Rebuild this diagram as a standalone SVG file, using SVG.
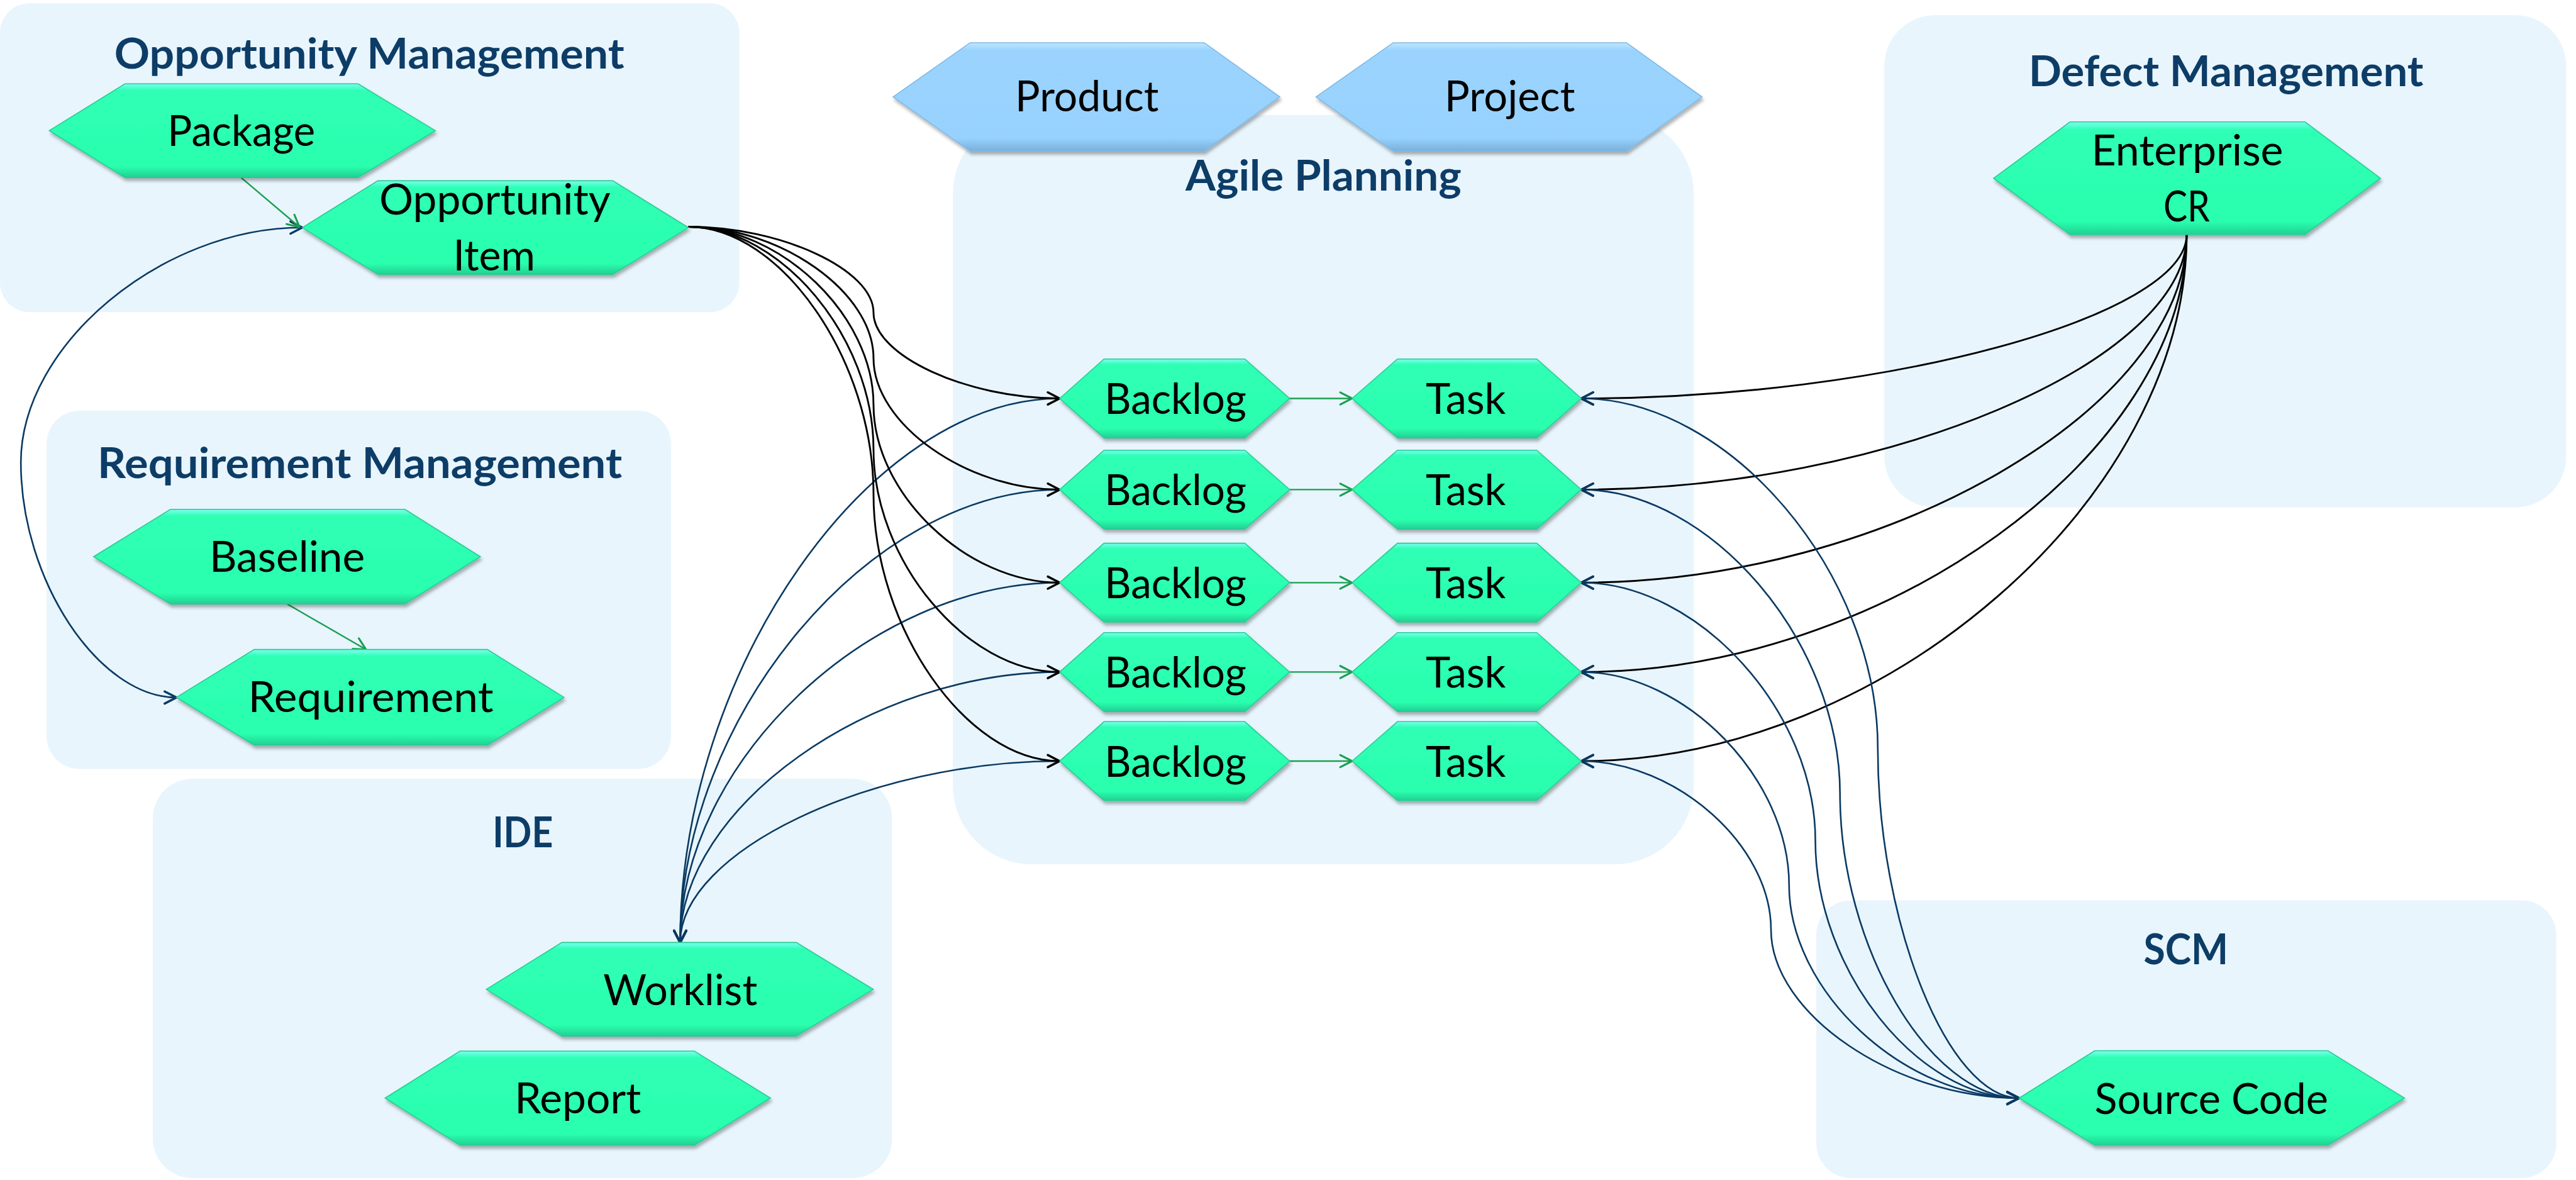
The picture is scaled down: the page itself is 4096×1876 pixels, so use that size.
<svg xmlns="http://www.w3.org/2000/svg" width="4096" height="1876" viewBox="0 0 4096 1876">
  <style>
    .box { fill: #e8f5fd; }
    .title { font-family: Lato, "Open Sans", "Liberation Sans", sans-serif; font-weight: 700; font-size: 25.4px; fill: #0d3d67; text-anchor: middle; }
    .hex { fill: url(#gGreen); stroke: #27cc90; stroke-width: 0.6; filter: url(#shadow); }
    .hexb { fill: url(#gBlue); stroke: #7db8e6; stroke-width: 0.6; filter: url(#shadow); }
    .lbl { font-family: Lato, "Open Sans", "Liberation Sans", sans-serif; font-size: 25.8px; fill: #000; text-anchor: middle; }
    .ck { fill: none; stroke: #000; stroke-width: 1.1; }
    .cb { fill: none; stroke: #0a3a63; stroke-width: 1; }
    .cg { fill: none; stroke: #1a9f50; stroke-width: 0.9; }
  </style>
  <defs>
    <linearGradient id="gGreen" x1="0" y1="0" x2="0" y2="1">
      <stop offset="0" stop-color="#7dfff0"/>
      <stop offset="0.07" stop-color="#2fffb5"/>
      <stop offset="0.88" stop-color="#2affae"/>
      <stop offset="1" stop-color="#21d192"/>
    </linearGradient>
    <linearGradient id="gBlue" x1="0" y1="0" x2="0" y2="1">
      <stop offset="0" stop-color="#bfe6ff"/>
      <stop offset="0.07" stop-color="#9ad4fe"/>
      <stop offset="0.88" stop-color="#97d1fd"/>
      <stop offset="1" stop-color="#7aafdb"/>
    </linearGradient>
    <filter id="shadow" x="-10%" y="-15%" width="125%" height="145%">
      <feDropShadow dx="0.8" dy="1.8" stdDeviation="1" flood-color="#000" flood-opacity="0.3"/>
    </filter>
    <marker id="arrK" markerUnits="userSpaceOnUse" viewBox="-9 -5 10 10" refX="0" refY="0" markerWidth="10" markerHeight="10" orient="auto-start-reverse" overflow="visible">
      <path d="M-7.2,-3.7 L0,0 L-7.2,3.7" fill="none" stroke="#000" stroke-width="1.35" stroke-linecap="round" stroke-linejoin="round"/>
    </marker>
    <marker id="arrB" markerUnits="userSpaceOnUse" viewBox="-9 -5 10 10" refX="0" refY="0" markerWidth="10" markerHeight="10" orient="auto-start-reverse" overflow="visible">
      <path d="M-7.2,-3.7 L0,0 L-7.2,3.7" fill="none" stroke="#0a3a63" stroke-width="1.35" stroke-linecap="round" stroke-linejoin="round"/>
    </marker>
    <marker id="arrG" markerUnits="userSpaceOnUse" viewBox="-9 -5 10 10" refX="0" refY="0" markerWidth="10" markerHeight="10" orient="auto-start-reverse" overflow="visible">
      <path d="M-7.2,-3.7 L0,0 L-7.2,3.7" fill="none" stroke="#1a9f50" stroke-width="1.2" stroke-linecap="round" stroke-linejoin="round"/>
    </marker>
  </defs>

  <rect width="4096" height="1876" fill="#ffffff"/>

  <g transform="scale(2.612245)">
    <!-- domain containers -->
    <g id="opportunity-management">
      <rect class="box" x="0" y="2" width="450" height="188" rx="18"/>
      <text class="title" x="224.8" y="41.8" textLength="310.4" lengthAdjust="spacingAndGlyphs">Opportunity Management</text>
    </g>
    <g id="requirement-management">
      <rect class="box" x="28.4" y="250" width="380" height="218" rx="20"/>
      <text class="title" x="219" y="291" textLength="319.3" lengthAdjust="spacingAndGlyphs">Requirement Management</text>
    </g>
    <g id="ide">
      <rect class="box" x="93" y="474" width="450" height="243" rx="24"/>
      <text class="title" x="318.2" y="515.6" textLength="36.8" lengthAdjust="spacingAndGlyphs">IDE</text>
    </g>
    <g id="agile-planning">
      <rect class="box" x="580" y="70" width="451" height="456" rx="48"/>
      <text class="title" x="805.6" y="116" textLength="167.9" lengthAdjust="spacingAndGlyphs">Agile Planning</text>
    </g>
    <g id="defect-management">
      <rect class="box" x="1147" y="9.2" width="415" height="299.6" rx="31"/>
      <text class="title" x="1355" y="52.5" textLength="240.3" lengthAdjust="spacingAndGlyphs">Defect Management</text>
    </g>
    <g id="scm">
      <rect class="box" x="1105.6" y="548" width="450.4" height="169" rx="21"/>
      <text class="title" x="1330.6" y="587" textLength="51.5" lengthAdjust="spacingAndGlyphs">SCM</text>
    </g>

    <!-- connectors -->
    <g id="connectors">
      <!-- worklist links to each backlog -->
      <path class="cb" marker-end="url(#arrB)" d="M645,242.5 C529.5,242.5 414,408.05 414,573.6"/>
      <path class="cb" marker-end="url(#arrB)" d="M645,298 C529.5,298 414,435.8 414,573.6"/>
      <path class="cb" marker-end="url(#arrB)" d="M645,354.6 C529.5,354.6 414,464.1 414,573.6"/>
      <path class="cb" marker-end="url(#arrB)" d="M645,409 C529.5,409 414,491.3 414,573.6"/>
      <path class="cb" marker-end="url(#arrB)" d="M645,463.2 C529.5,463.2 414,518.4 414,573.6"/>

      <!-- opportunity item to each backlog -->
      <path class="ck" marker-end="url(#arrK)" d="M419,138 C475.35,138 531.7,164.1 531.7,190.25 C531.7,216.4 588.35,242.5 645,242.5"/>
      <path class="ck" marker-end="url(#arrK)" d="M419,138 C475.35,138 531.7,178 531.7,218 C531.7,258 588.35,298 645,298"/>
      <path class="ck" marker-end="url(#arrK)" d="M419,138 C475.35,138 531.7,192.15 531.7,246.3 C531.7,300.45 588.35,354.6 645,354.6"/>
      <path class="ck" marker-end="url(#arrK)" d="M419,138 C475.35,138 531.7,205.75 531.7,273.5 C531.7,341.25 588.35,409 645,409"/>
      <path class="ck" marker-end="url(#arrK)" d="M419,138 C475.35,138 531.7,219.3 531.7,300.6 C531.7,381.9 588.35,463.2 645,463.2"/>

      <!-- enterprise CR to each task -->
      <path class="ck" marker-end="url(#arrK)" d="M1331,142.8 C1331,192.65 1146.75,242.5 962.5,242.5"/>
      <path class="ck" marker-end="url(#arrK)" d="M1331,142.8 C1331,220.4 1146.75,298 962.5,298"/>
      <path class="ck" marker-end="url(#arrK)" d="M1331,142.8 C1331,248.7 1146.75,354.6 962.5,354.6"/>
      <path class="ck" marker-end="url(#arrK)" d="M1331,142.8 C1331,275.9 1146.75,409 962.5,409"/>
      <path class="ck" marker-end="url(#arrK)" d="M1331,142.8 C1331,303 1146.75,463.2 962.5,463.2"/>

      <!-- task to source code, both ways -->
      <path class="cb" marker-start="url(#arrB)" marker-end="url(#arrB)" d="M962.5,242.5 C1052.75,242.5 1143,348.95 1143,455.4 C1143,561.85 1186,668.3 1229,668.3"/>
      <path class="cb" marker-start="url(#arrB)" marker-end="url(#arrB)" d="M962.5,298 C1041.25,298 1120,390.6 1120,483.15 C1120,575.7 1174.5,668.3 1229,668.3"/>
      <path class="cb" marker-start="url(#arrB)" marker-end="url(#arrB)" d="M962.5,354.6 C1033.75,354.6 1105,433 1105,511.45 C1105,589.9 1167,668.3 1229,668.3"/>
      <path class="cb" marker-start="url(#arrB)" marker-end="url(#arrB)" d="M962.5,409 C1025.75,409 1089,473.8 1089,538.65 C1089,603.5 1159,668.3 1229,668.3"/>
      <path class="cb" marker-start="url(#arrB)" marker-end="url(#arrB)" d="M962.5,463.2 C1020.25,463.2 1078,514.5 1078,565.75 C1078,617 1153.5,668.3 1229,668.3"/>

      <!-- opportunity item and requirement, both ways -->
      <path class="cb" marker-start="url(#arrB)" marker-end="url(#arrB)" d="M184,138.5 C98.35,138.5 12.7,210 12.7,281.5 C12.7,353 60.05,424.5 107.4,424.5"/>

      <!-- containment links -->
      <path class="cg" marker-end="url(#arrG)" d="M146.9,108.2 L182.3,138.2"/>
      <path class="cg" marker-end="url(#arrG)" d="M174.8,367.6 L222.8,395.3"/>
      <path class="cg" marker-end="url(#arrG)" d="M785,242.5 L823,242.5"/>
      <path class="cg" marker-end="url(#arrG)" d="M785,298 L823,298"/>
      <path class="cg" marker-end="url(#arrG)" d="M785,354.6 L823,354.6"/>
      <path class="cg" marker-end="url(#arrG)" d="M785,409 L823,409"/>
      <path class="cg" marker-end="url(#arrG)" d="M785,463.2 L823,463.2"/>
    </g>

    <!-- nodes -->
    <g id="package">
      <polygon class="hex" points="30,79.5 76,51 218,51 265,79.5 218,108 76,108"/>
      <text class="lbl" x="146.9" y="88.9" textLength="89.9" lengthAdjust="spacingAndGlyphs">Package</text>
    </g>
    <g id="opportunity-item">
      <polygon class="hex" points="184,138.5 230,110 373,110 419,138.5 373,167 230,167"/>
      <text class="lbl"><tspan x="301.2" y="130.4" textLength="140.8" lengthAdjust="spacingAndGlyphs">Opportunity</tspan><tspan x="300.8" y="164.5" textLength="50" lengthAdjust="spacingAndGlyphs">Item</tspan></text>
    </g>
    <g id="baseline">
      <polygon class="hex" points="57,338.8 103.7,310 246.5,310 292.4,338.8 246.5,367.6 103.7,367.6"/>
      <text class="lbl" x="174.8" y="348" textLength="94.7" lengthAdjust="spacingAndGlyphs">Baseline</text>
    </g>
    <g id="requirement">
      <polygon class="hex" points="107.4,424.4 154.7,395.3 296.7,395.3 343.3,424.4 296.7,453.5 154.7,453.5"/>
      <text class="lbl" x="225.7" y="433.5" textLength="149.3" lengthAdjust="spacingAndGlyphs">Requirement</text>
    </g>
    <g id="worklist">
      <polygon class="hex" points="296,602.1 342,573.6 484.7,573.6 531.5,602.1 484.7,630.6 342,630.6"/>
      <text class="lbl" x="414.1" y="611.6" textLength="93.8" lengthAdjust="spacingAndGlyphs">Worklist</text>
    </g>
    <g id="report">
      <polygon class="hex" points="234.4,668.3 280,639.7 422.6,639.7 469,668.3 422.6,697 280,697"/>
      <text class="lbl" x="351.7" y="677.7" textLength="77" lengthAdjust="spacingAndGlyphs">Report</text>
    </g>
    <g id="product">
      <polygon class="hexb" points="543.6,59 590.5,26 733,26 779,59 733,92 590.5,92"/>
      <text class="lbl" x="661.6" y="67.8" textLength="87.4" lengthAdjust="spacingAndGlyphs">Product</text>
    </g>
    <g id="project">
      <polygon class="hexb" points="801,59 848,26 990,26 1036,59 990,92 848,92"/>
      <text class="lbl" x="919" y="67.8" textLength="79.5" lengthAdjust="spacingAndGlyphs">Project</text>
    </g>

    <g id="backlog-1">
      <polygon class="hex" points="645,242.5 672,218.5 757.7,218.5 785,242.5 757.7,266.5 672,266.5"/>
      <text class="lbl" x="715.5" y="252" textLength="86.3" lengthAdjust="spacingAndGlyphs">Backlog</text>
    </g>
    <g id="backlog-2">
      <polygon class="hex" points="645,298 672,274 757.7,274 785,298 757.7,322 672,322"/>
      <text class="lbl" x="715.5" y="307.5" textLength="86.3" lengthAdjust="spacingAndGlyphs">Backlog</text>
    </g>
    <g id="backlog-3">
      <polygon class="hex" points="645,354.6 672,330.6 757.7,330.6 785,354.6 757.7,378.6 672,378.6"/>
      <text class="lbl" x="715.5" y="364.1" textLength="86.3" lengthAdjust="spacingAndGlyphs">Backlog</text>
    </g>
    <g id="backlog-4">
      <polygon class="hex" points="645,409 672,385 757.7,385 785,409 757.7,433 672,433"/>
      <text class="lbl" x="715.5" y="418.5" textLength="86.3" lengthAdjust="spacingAndGlyphs">Backlog</text>
    </g>
    <g id="backlog-5">
      <polygon class="hex" points="645,463.2 672,439.2 757.7,439.2 785,463.2 757.7,487.2 672,487.2"/>
      <text class="lbl" x="715.5" y="472.7" textLength="86.3" lengthAdjust="spacingAndGlyphs">Backlog</text>
    </g>

    <g id="task-1">
      <polygon class="hex" points="823,242.5 850.6,218.5 935.4,218.5 962.5,242.5 935.4,266.5 850.6,266.5"/>
      <text class="lbl" x="892.2" y="252" textLength="48.8" lengthAdjust="spacingAndGlyphs">Task</text>
    </g>
    <g id="task-2">
      <polygon class="hex" points="823,298 850.6,274 935.4,274 962.5,298 935.4,322 850.6,322"/>
      <text class="lbl" x="892.2" y="307.5" textLength="48.8" lengthAdjust="spacingAndGlyphs">Task</text>
    </g>
    <g id="task-3">
      <polygon class="hex" points="823,354.6 850.6,330.6 935.4,330.6 962.5,354.6 935.4,378.6 850.6,378.6"/>
      <text class="lbl" x="892.2" y="364.1" textLength="48.8" lengthAdjust="spacingAndGlyphs">Task</text>
    </g>
    <g id="task-4">
      <polygon class="hex" points="823,409 850.6,385 935.4,385 962.5,409 935.4,433 850.6,433"/>
      <text class="lbl" x="892.2" y="418.5" textLength="48.8" lengthAdjust="spacingAndGlyphs">Task</text>
    </g>
    <g id="task-5">
      <polygon class="hex" points="823,463.2 850.6,439.2 935.4,439.2 962.5,463.2 935.4,487.2 850.6,487.2"/>
      <text class="lbl" x="892.2" y="472.7" textLength="48.8" lengthAdjust="spacingAndGlyphs">Task</text>
    </g>

    <g id="enterprise-cr">
      <polygon class="hex" points="1213.5,108.5 1260,74.2 1403,74.2 1449,108.5 1403,142.8 1260,142.8"/>
      <text class="lbl"><tspan x="1331.4" y="100.7" textLength="116.8" lengthAdjust="spacingAndGlyphs">Enterprise</tspan><tspan x="1331" y="134.6" textLength="28.3" lengthAdjust="spacingAndGlyphs">CR</tspan></text>
    </g>
    <g id="source-code">
      <polygon class="hex" points="1229,668.3 1275,639.5 1417,639.5 1463.6,668.3 1417,697 1275,697"/>
      <text class="lbl" x="1346.1" y="678" textLength="142.2" lengthAdjust="spacingAndGlyphs">Source Code</text>
    </g>
  </g>
</svg>
